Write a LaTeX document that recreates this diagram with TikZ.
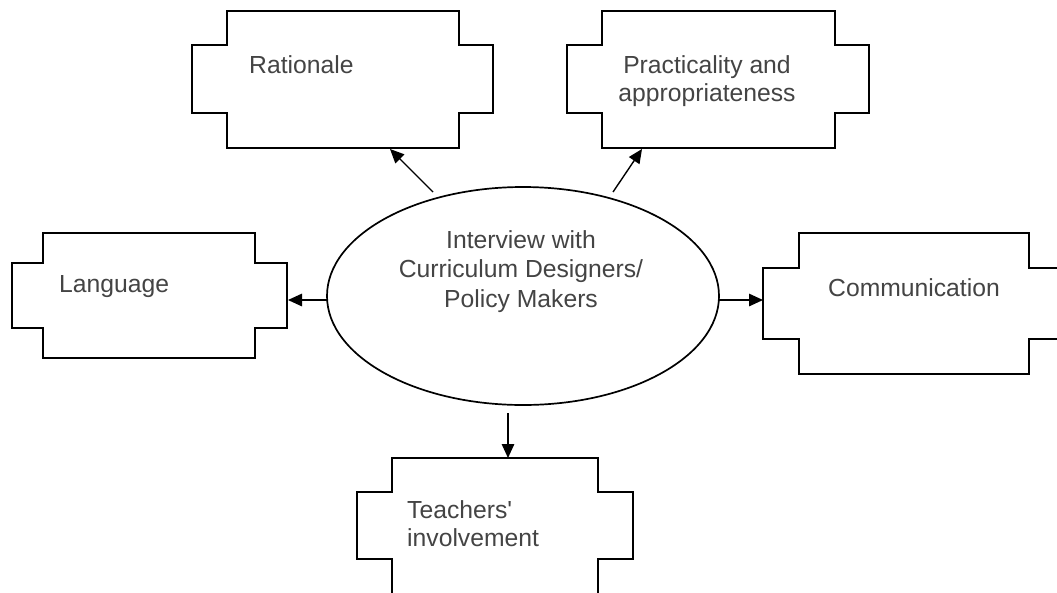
\documentclass[tikz,border=0pt]{standalone}
\usepackage{fontspec}
\setmainfont{Liberation Sans}[Ligatures=TeXOff]
\usetikzlibrary{shapes.geometric,arrows.meta}
\definecolor{txtgray}{RGB}{68,68,68}
\newcommand{\notchbox}[9]{%
  % #1 name, #2 outer left, #3 inner left, #4 inner right, #5 outer right,
  % #6 top, #7 notch top, #8 notch bottom, #9 bottom
  \node[inner sep=0pt, minimum width={#4-#3}, minimum height={#9-#6}] (#1) at ({(#3+#4)/2},{(#6+#9)/2}) {};
  \draw[boxline] (#3,#6) -- (#4,#6) -- (#4,#7) -- (#5,#7) -- (#5,#8) -- (#4,#8)
     -- (#4,#9) -- (#3,#9) -- (#3,#8) -- (#2,#8) -- (#2,#7) -- (#3,#7) -- cycle;
}
\begin{document}
\begin{tikzpicture}[x=1pt,y=-1pt,
  boxline/.style={line width=1.9pt, line join=miter},
  lbl/.style={text=txtgray, font=\fontsize{24.7}{27.5}\selectfont, inner sep=0pt},
  arr/.style={line width=1.4pt, -{Triangle[length=14pt,width=12.5pt]}}]
\useasboundingbox (0,0) rectangle (1057,592);
\fill[white] (0,0) rectangle (1057,592);
% boxes
\notchbox{rat}{192}{227}{459}{493}{11}{45}{113}{148}
\notchbox{pra}{567}{602}{835}{869}{11}{45}{113}{148}
\notchbox{lan}{12}{43}{255}{287}{233}{263}{328}{358}
\notchbox{com}{763}{799}{1029}{1066}{233}{268}{339}{374}
\notchbox{tea}{357}{392}{598}{633}{458}{492}{559}{600}
% ellipse
\node[draw, ellipse, line width=1.7pt, minimum width=392pt, minimum height=218pt, inner sep=0pt] (ell) at (523,296) {};
% labels (base anchor of a multi-line node = last line)
\node[lbl, anchor=base west] (tRat) at (249,73) {Rationale};
\node[lbl, anchor=base, align=center] (tPra) at (707,101) {Practicality and\\appropriateness};
\node[lbl, anchor=base west] (tLan) at (59,292) {Language};
\node[lbl, anchor=base] (tCom) at (914,296) {Communication};
\node[lbl, anchor=base west, align=left] (tTea) at (407,546) {Teachers'\\involvement};
\node[lbl, anchor=base, align=center, font=\fontsize{24.7}{29.5}\selectfont] (tEll) at (521,307) {Interview with\\Curriculum Designers/\\Policy Makers};
% connector end points
\coordinate (e1) at (433,192);
\coordinate (r1) at (390,149);
\coordinate (e2) at (613,192);
\coordinate (p1) at (642,149);
\coordinate (e3) at (327,300);
\coordinate (l1) at (288,300);
\coordinate (e4) at (719,300);
\coordinate (c1) at (763,300);
\coordinate (e5) at (508,413);
\coordinate (t1) at (508,458);
\draw[arr] (e1) -- (r1);
\draw[arr] (e2) -- (p1);
\draw[arr] (e3) -- (l1);
\draw[arr] (e4) -- (c1);
\draw[arr] (e5) -- (t1);
\end{tikzpicture}
\end{document}
